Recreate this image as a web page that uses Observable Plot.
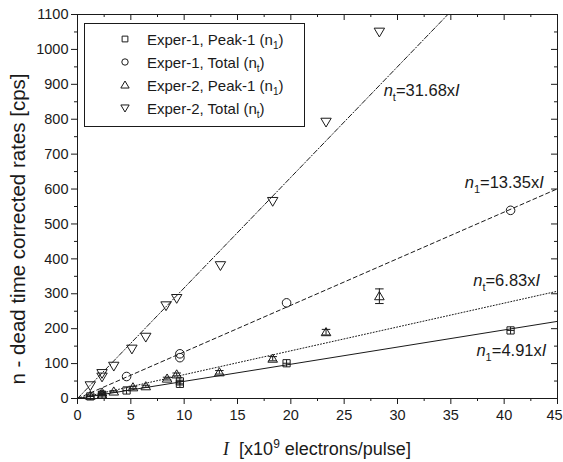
<!DOCTYPE html>
<html><head><meta charset="utf-8">
<script src="https://cdn.jsdelivr.net/npm/d3@7"></script>
<script src="https://cdn.jsdelivr.net/npm/@observablehq/plot@0.6"></script>
<style>
body{margin:0;background:#fff;}
#chart svg{font-family:"Liberation Sans",Arial,sans-serif;}
</style>
</head><body><div id="chart"></div>
<script>
// ---- data ----
const seriesNames = ["Exper-1, Peak-1 (n_1)", "Exper-1, Total (n_t)", "Exper-2, Peak-1 (n_1)", "Exper-2, Total (n_t)"];
const I_exp1_peak = [1.2, 2.3, 4.6, 9.6, 9.6, 19.6, 40.6];
const n_exp1_peak = [6, 11, 23, 42, 49, 101, 195];
const I_exp1_total = [4.6, 9.6, 9.6, 19.6, 40.6];
const n_exp1_total = [63, 117, 128, 274, 539];
const I_exp2_peak = [1.2, 2.3, 2.3, 3.4, 5.2, 6.4, 8.4, 9.3, 13.3, 18.3, 23.3, 28.3];
const n_exp2_peak = [8, 11, 17, 20, 32, 35, 57, 69, 75, 114, 190, 293];
const err_exp2_peak = [2, 2, 2, 2, 3, 3, 4, 4, 5, 6, 8, 21];
const I_exp2_total = [1.2, 2.3, 2.3, 3.4, 5.1, 6.4, 8.3, 9.3, 13.4, 18.3, 23.3, 28.3];
const n_exp2_total = [37, 72, 62, 93, 142, 176, 266, 287, 381, 565, 792, 1050];
const fitSlopes = [4.91, 6.83, 13.35, 31.68];
const fitLabels = ["n_1=4.91xI", "n_t=6.83xI", "n_1=13.35xI", "n_t=31.68xI"];
const fitLabelI = [37.4, 37.1, 36.3, 28.7];
const fitLabelN = [138, 338, 619, 882];
const fitDash = [null, "1,2", "4,3", "5,2,1,2"];
const xTicks = d3.range(0, 46, 5);
const xMinor = d3.range(2.5, 45, 5);
const yTicks = d3.range(0, 1101, 100);
const yMinor = d3.range(50, 1100, 100);

// ---- symbols ----
const rOf = s => Math.sqrt(s / Math.PI);
const symSquareCross = {draw(c, s){ const h = rOf(s)*0.9; c.moveTo(-h,-h); c.lineTo(h,-h); c.lineTo(h,h); c.lineTo(-h,h); c.closePath(); c.moveTo(0,-h); c.lineTo(0,h); c.moveTo(-h,0); c.lineTo(h,0);} };
const symSquare = {draw(c, s){ const h = rOf(s)*0.9; c.moveTo(-h,-h); c.lineTo(h,-h); c.lineTo(h,h); c.lineTo(-h,h); c.closePath();} };
const symCircle = {draw(c, s){ const r = rOf(s); c.moveTo(r,0); c.arc(0,0,r,0,2*Math.PI);} };
const symTriUp = {draw(c, s){ const r = rOf(s); c.moveTo(0,-1.25*r); c.lineTo(1.3*r,0.95*r); c.lineTo(-1.3*r,0.95*r); c.closePath();} };
const symTriDown = {draw(c, s){ const r = rOf(s); c.moveTo(0,1.25*r); c.lineTo(1.3*r,-0.95*r); c.lineTo(-1.3*r,-0.95*r); c.closePath();} };

const pts = (xs, ys) => xs.map((x, i) => ({x, y: ys[i]}));
const e1p = pts(I_exp1_peak, n_exp1_peak);
const e1t = pts(I_exp1_total, n_exp1_total);
const e2p = I_exp2_peak.map((x, i) => ({x, y: n_exp2_peak[i], e: err_exp2_peak[i]}));
const e2t = pts(I_exp2_total, n_exp2_total);
const fits = fitSlopes.map((s, i) => {
  const xe = Math.min(45, 1100 / s);
  return {dash: fitDash[i], data: [{x: 0, y: 0}, {x: xe, y: s * xe}]};
});
const labels = fitLabels.map((t, i) => ({t, x: fitLabelI[i], y: fitLabelN[i]}));

const W = 563, H = 462, mL = 77, mR = 6, mT = 14, mB = 64;
const pW = W - mL - mR, pH = H - mT - mB;
const ink = "#1a1a1a";

const chart = Plot.plot({
  width: W, height: H, marginLeft: mL, marginRight: mR, marginTop: mT, marginBottom: mB,
  style: {fontFamily: "'Liberation Sans', Arial, sans-serif", fontSize: "14.5px", color: ink, background: "white", overflow: "visible"},
  x: {domain: [0, 45], ticks: xTicks, tickSize: 6, tickPadding: 5, label: null, tickFormat: d3.format("d")},
  y: {domain: [0, 1100], ticks: yTicks, tickSize: 6, tickPadding: 3, label: null, tickFormat: d3.format("d")},
  marks: [
    Plot.ruleX(xMinor, {x: d => d, insetTop: pH, insetBottom: -3, stroke: ink}),
    Plot.ruleX(xTicks, {x: d => d, insetBottom: pH - 6, stroke: ink}),
    Plot.ruleX(xMinor, {x: d => d, insetBottom: pH - 3, stroke: ink}),
    Plot.ruleY(yMinor, {y: d => d, insetRight: pW, insetLeft: -3, stroke: ink}),
    Plot.ruleY(yTicks, {y: d => d, insetLeft: pW - 6, stroke: ink}),
    Plot.ruleY(yMinor, {y: d => d, insetLeft: pW - 3, stroke: ink}),
    ...fits.map(f => Plot.line(f.data, {x: "x", y: "y", stroke: ink, strokeWidth: 1, strokeDasharray: f.dash})),
    Plot.ruleX(e2p, {x: "x", y1: d => d.y - d.e, y2: d => d.y + d.e, stroke: ink}),
    Plot.link(e2p, {x1: d => d.x - 0.4, x2: d => d.x + 0.4, y1: d => d.y - d.e, y2: d => d.y - d.e, stroke: ink}),
    Plot.link(e2p, {x1: d => d.x - 0.4, x2: d => d.x + 0.4, y1: d => d.y + d.e, y2: d => d.y + d.e, stroke: ink}),
    Plot.dot(e1p, {x: "x", y: "y", symbol: symSquareCross, r: 4, fill: "none", stroke: ink, strokeWidth: 1}),
    Plot.dot(e1t, {x: "x", y: "y", symbol: symCircle, r: 4.3, fill: "none", stroke: ink, strokeWidth: 1}),
    Plot.dot(e2p, {x: "x", y: "y", symbol: symTriUp, r: 3.7, fill: "none", stroke: ink, strokeWidth: 1}),
    Plot.dot(e2t, {x: "x", y: "y", symbol: symTriDown, r: 4, fill: "none", stroke: ink, strokeWidth: 1}),
    Plot.text(labels, {x: "x", y: "y", text: "t", textAnchor: "start", fontSize: 16.5, fill: ink}),
    Plot.frame({stroke: ink})
  ]
});
document.getElementById("chart").append(chart);

const svg = d3.select(chart);
// Rich text for equation labels; nudge last x tick label inside the picture
svg.selectAll("text").each(function() {
  const txt = this.textContent;
  if (txt === "45") { d3.select(this).attr("dx", -3); return; }
  const m = /^n_(.)=(.*)xI$/.exec(txt);
  if (!m) return;
  const el = d3.select(this);
  el.text(null);
  el.append("tspan").attr("font-style", "italic").text("n");
  el.append("tspan").attr("dy", 5).attr("font-size", 11).text(m[1]);
  el.append("tspan").attr("dy", -5).text("=" + m[2] + "x");
  el.append("tspan").attr("font-style", "italic").text("I");
});

// Legend
const lg = svg.append("g").attr("font-size", 15).attr("fill", ink).attr("text-anchor", "start");
lg.append("rect").attr("x", 84.5).attr("y", 23.5).attr("width", 220).attr("height", 103)
  .attr("fill", "white").attr("stroke", ink);
const legSyms = [symSquare, symCircle, symTriUp, symTriDown];
seriesNames.forEach((name, i) => {
  const cy = 39 + i * 23;
  lg.append("path").attr("d", d3.symbol(legSyms[i], Math.PI * 3.2 * 3.2)())
    .attr("transform", `translate(125,${cy})`).attr("fill", "none").attr("stroke", ink);
  const m = /^(.*)\(n_(.)\)$/.exec(name);
  const t = lg.append("text").attr("x", 147).attr("y", cy + 5.5).attr("text-anchor", "start");
  t.append("tspan").text(m[1] + "(n");
  t.append("tspan").attr("dy", 4).attr("font-size", 10).text(m[2]);
  t.append("tspan").attr("dy", -4).text(")");
});

// Axis titles
const xt = svg.append("text").attr("x", mL + pW / 2).attr("y", 455).attr("text-anchor", "middle")
  .attr("font-size", 18).attr("fill", ink);
xt.append("tspan").attr("font-family", "'Liberation Serif', 'Times New Roman', serif").attr("font-style", "italic").text("I");
xt.append("tspan").text("\u00a0 [x10");
xt.append("tspan").attr("dy", -7).attr("font-size", 12).text("9");
xt.append("tspan").attr("dy", 7).text(" electrons/pulse]");

svg.append("text").attr("transform", `translate(25,229) rotate(-90)`).attr("text-anchor", "middle")
  .attr("font-size", 20.5).attr("fill", ink).text("n - dead time corrected rates [cps]");
</script>
</body></html>
